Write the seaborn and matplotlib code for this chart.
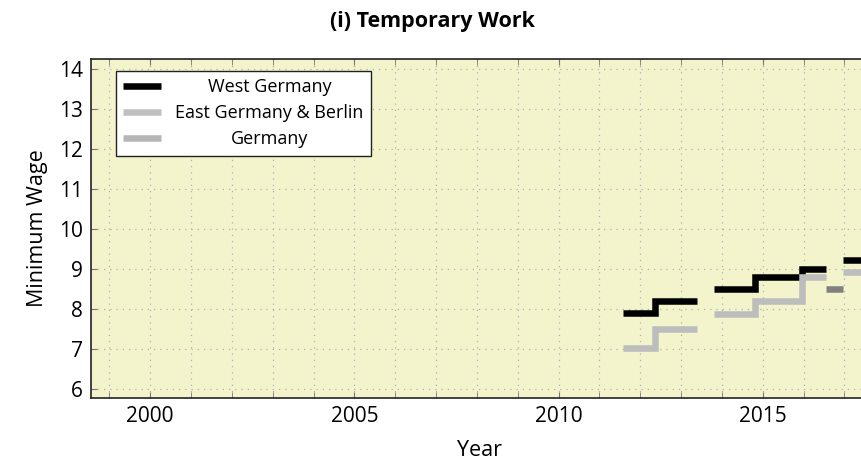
import pandas as pd
import seaborn as sns
import matplotlib.pyplot as plt
from matplotlib.lines import Line2D

# step data (x = year, y = EUR per hour)
west_x = [2011.57, 2012.37, 2013.38, 2013.80, 2014.80, 2015.95, 2016.54, 2016.96, 2018.5]
west_y = [7.89, 8.19, 8.19, 8.50, 8.80, 9.00, 9.00, 9.23, 9.23]
west_seg = [1, 1, 1, 2, 2, 2, 2, 3, 3]

east_x = [2011.57, 2012.37, 2013.38, 2013.80, 2014.80, 2015.95, 2016.54, 2016.96, 2018.5]
east_y = [7.01, 7.50, 7.50, 7.86, 8.20, 8.80, 8.80, 8.91, 8.91]
east_seg = [1, 1, 1, 2, 2, 2, 2, 3, 3]

ger_x = [2016.54, 2016.96]
ger_y = [8.50, 8.50]
ger_seg = [1, 1]

series = ['West Germany', 'East Germany & Berlin', 'Germany']
colors = {'West Germany': '#000000', 'East Germany & Berlin': '#bdbdbd', 'Germany': '#808080'}
legend_colors = ['#000000', '#c0c0c0', '#b6b6b6']

year_ticks = [2000, 2005, 2010, 2015]
wage_ticks = [6, 7, 8, 9, 10, 11, 12, 13, 14]

rows = []
for name, xs, ys, segs in [(series[0], west_x, west_y, west_seg),
                           (series[1], east_x, east_y, east_seg),
                           (series[2], ger_x, ger_y, ger_seg)]:
    for x, y, s in zip(xs, ys, segs):
        rows.append({'Year': x, 'Wage': y, 'series': name, 'unit': f'{name}-{s}'})
df = pd.DataFrame(rows)

sns.set_style('ticks')
plt.rcParams['font.family'] = ['Open Sans', 'DejaVu Sans']
plt.rcParams['text.color'] = 'black'
plt.rcParams['axes.labelcolor'] = 'black'
plt.rcParams['xtick.labelcolor'] = 'black'
plt.rcParams['ytick.labelcolor'] = 'black'

fig = plt.figure(figsize=(8.61, 4.65), dpi=100)
ax = fig.add_axes([91 / 861, 1 - 398 / 465, 778 / 861, 339 / 465])
ax.set_facecolor('#f3f4cc')

sns.lineplot(data=df, x='Year', y='Wage', hue='series', units='unit', estimator=None,
             palette=colors, hue_order=series, drawstyle='steps-post', lw=4.7,
             solid_capstyle='butt', solid_joinstyle='miter', legend=False, ax=ax, zorder=3)

ax.set_xlim(1998.55, 2017.6)
ax.set_ylim(5.77, 14.25)
ax.set_xticks(year_ticks)
ax.set_xticks(range(1999, 2018), minor=True)
ax.set_yticks(wage_ticks)
ax.tick_params(axis='both', which='both', direction='in', top=True, right=True,
               length=4, color='#777777', labelsize=15, pad=6)
ax.grid(True, which='both', linestyle=(0, (1, 4)), color='#b0b0b0', linewidth=0.9)
for sp in ax.spines.values():
    sp.set_color('#222222')
    sp.set_linewidth(1.2)

ax.set_xlabel('Year', fontsize=15.5, labelpad=9)
ax.set_ylabel('Minimum Wage', fontsize=15.5, labelpad=8)
fig.text(432 / 861, 1 - 21 / 465, '(i) Temporary Work', ha='center', va='center',
         fontsize=15.5, fontweight='bold')

handles = [Line2D([], [], color=c, lw=4.7, solid_capstyle='butt') for c in legend_colors]
leg = ax.legend(handles, series, loc='upper left', bbox_to_anchor=(0.032, 0.965),
                borderaxespad=0, fontsize=13, handlelength=2.1, handletextpad=0.8,
                labelspacing=0.45, frameon=True, fancybox=False, framealpha=1,
                edgecolor='#222222')
leg.get_frame().set_linewidth(1.0)

# centre the legend labels within their column
fig.canvas.draw()
r = fig.canvas.get_renderer()
texts = leg.get_texts()
widths = [t.get_window_extent(r).width for t in texts]
for t, w in zip(texts, widths):
    t.set_position(((max(widths) - w) / 2, 0))

fig.savefig('out.png', dpi=100)
